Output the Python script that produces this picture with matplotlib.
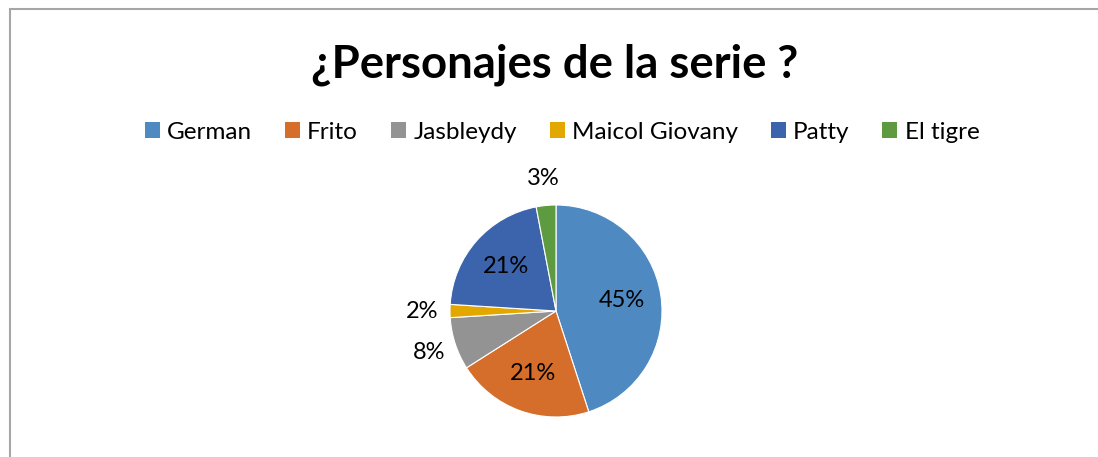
import numpy as np
import matplotlib.pyplot as plt
from matplotlib.patches import Patch, Rectangle

# data
personajes = ['German', 'Frito', 'Jasbleydy', 'Maicol Giovany', 'Patty', 'El tigre']
porcentajes = [45, 21, 8, 2, 21, 3]
colores = ['#4E8AC1', '#D56E2A', '#939393', '#E2A800', '#3C64AC', '#5E9A3F']
titulo = '¿Personajes de la serie ?'

plt.rcParams['font.family'] = ['Lato', 'DejaVu Sans']

W, H = 1098, 457
fig = plt.figure(figsize=(W / 100, H / 100), dpi=100)
fig.patch.set_facecolor('white')

# chart frame (only left and top edges are visible in the crop)
fig.patches.append(Rectangle((10 / W, -0.1), 1.2, (H - 9) / H + 0.1,
                             transform=fig.transFigure, fill=False,
                             edgecolor='#A6A6A6', linewidth=1.5))

fig.text(555 / W, 1 - 65 / H, titulo, ha='center', va='center',
         fontsize=32.8, fontweight='bold', color='black')

# pie
cx, cy, r = 556, 311, 106
ax = fig.add_axes([(cx - r) / W, (H - cy - r) / H, 2 * r / W, 2 * r / H])
wedges, texts, autotexts = ax.pie(porcentajes, colors=colores, startangle=90,
                                  counterclock=False, autopct='%1.0f%%',
                                  pctdistance=0.63,
                                  wedgeprops=dict(linewidth=0.8, edgecolor='white'),
                                  textprops=dict(fontsize=17, color='black'))
ax.set_xlim(-1, 1)
ax.set_ylim(-1, 1)
ax.set_aspect('equal')
ax.axis('off')

# small slices get their label outside (Excel "best fit")
for w, t, p in zip(wedges, autotexts, porcentajes):
    if p < 10:
        ang = np.deg2rad((w.theta1 + w.theta2) / 2)
        t.set_position((1.26 * np.cos(ang), 1.26 * np.sin(ang)))

handles = [Patch(facecolor=c, edgecolor='none') for c in colores]
fig.legend(handles, personajes, loc='center', ncol=len(personajes),
           bbox_to_anchor=(562 / W, 1 - 132 / H), frameon=False,
           fontsize=17.5, handlelength=0.62, handleheight=0.62,
           handletextpad=0.3, columnspacing=1.35)

fig.savefig('out.png', dpi=100)
